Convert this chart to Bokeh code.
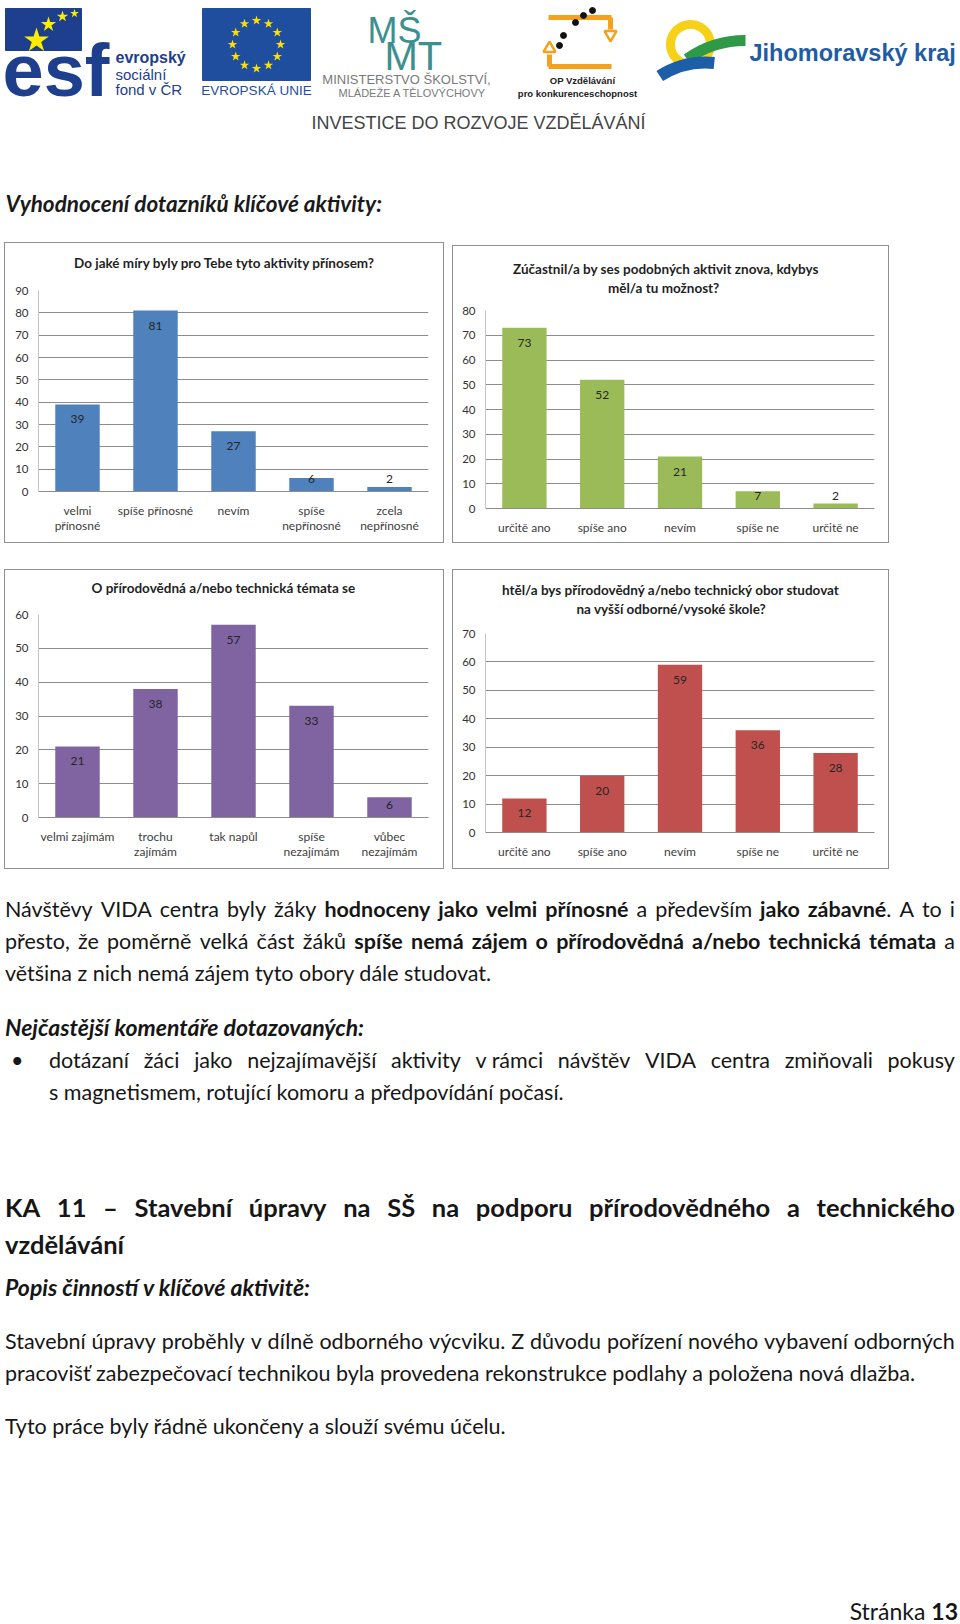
import numpy as np
from bokeh.plotting import figure
from bokeh.models import ColumnDataSource, FactorRange, Range1d, FixedTicker, Title, Div, Spacer
from bokeh.layouts import column, row
from bokeh.embed import file_html
from bokeh.resources import INLINE
from bokeh.core.properties import value

FONT = "Lato"

# ---------------- chart data ----------------
c1_title = ["Do jaké míry byly pro Tebe tyto aktivity přínosem?"]
c1_cats = ["velmi\npřínosné", "spíše přínosné", "nevím", "spíše\nnepřínosné", "zcela\nnepřínosné"]
c1_vals = [39, 81, 27, 6, 2]
c1_ymax = 90

c2_title = ["Zúčastnil/a by ses podobných aktivit znova, kdybys", "měl/a tu možnost?"]
c2_cats = ["určitě ano", "spíše ano", "nevím", "spíše ne", "určitě ne"]
c2_vals = [73, 52, 21, 7, 2]
c2_ymax = 80

c3_title = ["O přírodovědná a/nebo technická témata se"]
c3_cats = ["velmi zajímám", "trochu\nzajímám", "tak napůl", "spíše\nnezajímám", "vůbec\nnezajímám"]
c3_vals = [21, 38, 57, 33, 6]
c3_ymax = 60

c4_title = ["htěl/a bys přírodovědný a/nebo technický obor studovat", "na vyšší odborné/vysoké škole?"]
c4_cats = ["určitě ano", "spíše ano", "nevím", "spíše ne", "určitě ne"]
c4_vals = [12, 20, 59, 36, 28]
c4_ymax = 70

tick_step = 10


def make_chart(title_lines, title_offsets, gap, cats, vals, ymax, color, w, h, fl, fr, ft, fb, margin):
    p = figure(width=w, height=h, x_range=FactorRange(factors=cats), y_range=Range1d(0, ymax),
               toolbar_location=None, output_backend="svg", margin=margin, title=None,
               min_border_left=fl, min_border_right=fr, min_border_top=ft, min_border_bottom=fb,
               frame_align=False,
               styles={"outline": "1px solid #8f8f8f", "outline-offset": "0px"})
    p.x_range.range_padding = 0
    p.outline_line_color = None
    ppu = (h - ft - fb) / ymax
    ly = [max(v - 15 / ppu, 13 / ppu) for v in vals]
    src = ColumnDataSource(dict(cat=cats, val=vals, ly=ly, txt=[str(v) for v in vals]))
    p.vbar(x="cat", top="val", width=0.57, source=src, fill_color=color, line_color=None)
    p.text(x="cat", y="ly", text="txt", source=src, text_align="center", text_baseline="middle",
           text_font=value(FONT), text_font_size="12px", text_color="#262626")
    p.yaxis.ticker = FixedTicker(ticks=list(range(0, ymax + 1, tick_step)))
    p.xgrid.grid_line_color = None
    p.ygrid.grid_line_color = "#8c8c8c"
    p.axis.major_tick_line_color = None
    p.axis.minor_tick_line_color = None
    p.axis.major_tick_out = 0
    p.axis.major_tick_in = 0
    p.axis.minor_tick_out = 0
    p.yaxis.axis_line_color = "#c4c4c4"
    p.xaxis.axis_line_color = "#8c8c8c"
    p.axis.major_label_text_font = FONT
    p.yaxis.major_label_text_font_size = "11.5px"
    p.xaxis.major_label_text_font_size = "12px"
    p.xaxis.major_label_text_line_height = 1.0
    p.yaxis.major_label_text_color = "#333333"
    p.xaxis.major_label_text_color = "#404040"
    p.yaxis.major_label_standoff = 10
    p.xaxis.major_label_standoff = 11
    # white spacer next to the frame (keeps the title away from the plot), then the title lines
    p.add_layout(Title(text=".", text_font_size="6px", text_color="white", standoff=gap), "above")
    for t, o in reversed(list(zip(title_lines, title_offsets))):
        p.add_layout(Title(text=t, align="left", offset=o, standoff=1, text_font=FONT,
                           text_font_size="13.5px", text_font_style="bold", text_color="#1f1f1f"),
                     "above")
    return p


ch1 = make_chart(c1_title, [35.5], 12.6, c1_cats, c1_vals, c1_ymax, "#4f81bd",
                 438, 299, 33, 15, 47, 51, (1, 0, 1, 5))
ch2 = make_chart(c2_title, [27.5, 122.5], 8, c2_cats, c2_vals, c2_ymax, "#9bbb59",
                 435, 296, 32, 14, 64, 34, (4, 0, 1, 10))
ch3 = make_chart(c3_title, [53], 11.6, c3_cats, c3_vals, c3_ymax, "#8064a2",
                 438, 298, 33, 15, 44, 51, (1, 0, 1, 5))
ch4 = make_chart(c4_title, [16.5, 91], 10, c4_cats, c4_vals, c4_ymax, "#c0504d",
                 435, 298, 32, 14, 63, 36, (1, 0, 1, 10))

# ---------------- header (logos + heading) ----------------
hdr = figure(width=960, height=242, x_range=Range1d(0, 960), y_range=Range1d(-242, 0),
             toolbar_location=None, output_backend="svg", min_border=0, margin=(0, 0, 0, 0),
             x_axis_location=None, y_axis_location=None)
hdr.grid.visible = False
hdr.outline_line_color = None

LS = value("Liberation Sans")
ESF_BLUE = "#1d3f8e"
# ESF logo
hdr.quad(left=[5], right=[81], top=[-8], bottom=[-50], color=ESF_BLUE)
hdr.text(x=[2], y=[-70], text=["esf"], text_font=LS, text_font_style="bold",
         text_font_size="74px", text_color=ESF_BLUE, text_baseline="middle")
hdr.scatter(x=[36, 48, 62, 74], y=[-40, -24, -16, -13], marker="star", size=[26, 16, 12, 9],
            color="#ffed00", line_color=None)
hdr.text(x=[115], y=[-57], text=["evropský"], text_font=LS, text_font_style="bold",
         text_font_size="16px", text_color=ESF_BLUE, text_baseline="middle")
hdr.text(x=[115, 115], y=[-74, -89], text=["sociální", "fond v ČR"], text_font=LS,
         text_font_size="15px", text_color=ESF_BLUE, text_baseline="middle")

# EU flag
EU_BLUE = "#1f4e9f"
hdr.quad(left=[202], right=[310], top=[-8], bottom=[-80], color=EU_BLUE)
ang = np.arange(12) * np.pi / 6
hdr.scatter(x=256 + 24 * np.cos(ang), y=-44 + 24 * np.sin(ang), marker="star", size=10,
            color="#ffe000", line_color=None)
hdr.text(x=[256], y=[-90], text=["EVROPSKÁ UNIE"], text_font=LS,
         text_font_size="13.5px", text_color=EU_BLUE, text_align="center", text_baseline="middle")

# MSMT
TEAL = "#3c9090"
hdr.text(x=[367], y=[-30], text=["MŠ"], text_font=LS, text_font_size="36px",
         text_color=TEAL, text_baseline="middle")
hdr.text(x=[384], y=[-55], text=["MT"], text_font=LS, text_font_size="40px",
         text_color=TEAL, text_baseline="middle")
hdr.text(x=[406], y=[-79], text=["MINISTERSTVO ŠKOLSTVÍ,"], text_font=LS,
         text_font_size="13px", text_color="#7a7a7a", text_align="center", text_baseline="middle")
hdr.text(x=[412], y=[-92], text=["MLÁDEŽE A TĚLOVÝCHOVY"], text_font=LS,
         text_font_size="11px", text_color="#7a7a7a", text_align="center", text_baseline="middle")

# OP logo
ORANGE = "#f4a11d"
hdr.multi_line(xs=[[548, 611], [610, 610], [548, 611], [549, 549]],
               ys=[[-17, -17], [-17, -29], [-66, -66], [-66, -54]], line_color=ORANGE, line_width=5)
hdr.scatter(x=[610], y=[-34], marker="inverted_triangle", size=12, fill_color="white",
            line_color=ORANGE, line_width=2.5)
hdr.scatter(x=[549], y=[-48], marker="triangle", size=12, fill_color="white",
            line_color=ORANGE, line_width=2.5)
hdr.scatter(x=[559, 563, 575, 583, 592], y=[-45, -35, -22, -15, -10], size=6, color="#111111")
hdr.text(x=[582], y=[-80], text=["OP Vzdělávání"], text_font=LS, text_font_style="bold",
         text_font_size="9.5px", text_color="#222222", text_align="center", text_baseline="middle")
hdr.text(x=[577], y=[-93], text=["pro konkurenceschopnost"], text_font=LS,
         text_font_style="bold", text_font_size="9.5px", text_color="#222222", text_align="center",
         text_baseline="middle")

# Jihomoravsky kraj
hdr.arc(x=[690], y=[-44], radius=20, start_angle=0, end_angle=2 * np.pi * 0.999,
        line_color="#f7d117", line_width=9)
hdr.arc(x=[745], y=[-142], radius=102, start_angle=np.deg2rad(90), end_angle=np.deg2rad(125),
        line_color="#2e9a47", line_width=11)
hdr.arc(x=[705], y=[-146], radius=84, start_angle=np.deg2rad(84), end_angle=np.deg2rad(123),
        line_color="#1d5ea8", line_width=12)
hdr.text(x=[749], y=[-52], text=["Jihomoravský kraj"], text_font=LS,
         text_font_style="bold", text_font_size="23.5px", text_color="#1f5ca6", text_baseline="middle")

hdr.text(x=[311], y=[-122], text=["INVESTICE DO ROZVOJE VZDĚLÁVÁNÍ"], text_font=LS,
         text_font_size="18px", text_color="#444444", text_baseline="middle")

hdr.text(x=[5], y=[-203], text=["Vyhodnocení dotazníků klíčové aktivity:"], text_font=value(FONT),
         text_font_style="bold italic", text_font_size="22.5px", text_color="#1a1a1a", text_baseline="middle")

# ---------------- body text ----------------
TOP = 869  # page y where the text block starts
# text (with *...* for bold), x, y-centre, font size, right edge if justified, style
body_lines = [
    ("Návštěvy VIDA centra byly žáky *hodnoceny jako velmi přínosné* a především *jako zábavné*. A to i",
     5, 909.5, 21.5, 955, ""),
    ("přesto, že poměrně velká část žáků *spíše nemá zájem o přírodovědná a/nebo technická témata* a",
     5, 941.7, 21.5, 955, ""),
    ("většina z nich nemá zájem tyto obory dále studovat.", 5, 973.8, 21.5, None, ""),
    ("Nejčastější komentáře dotazovaných:", 5, 1027.7, 23, None, "font-weight:bold;font-style:italic;"),
    ("•", 11, 1060.8, 21.5, None, ""),
    ("dotázaní žáci jako nejzajímavější aktivity v\u00a0rámci návštěv VIDA centra zmiňovali pokusy",
     49, 1060.8, 21.5, 955, ""),
    ("s\u00a0magnetismem, rotující komoru a předpovídání počasí.", 49, 1093, 21.5, None, ""),
    ("KA 11 – Stavební úpravy na SŠ na podporu přírodovědného a technického", 5, 1207, 25.5, 955,
     "font-weight:bold;"),
    ("vzdělávání", 5, 1244, 25.5, None, "font-weight:bold;"),
    ("Popis činností v klíčové aktivitě:", 5, 1288, 23, None, "font-weight:bold;font-style:italic;"),
    ("Stavební úpravy proběhly v dílně odborného výcviku. Z důvodu pořízení nového vybavení odborných",
     5, 1341.6, 21.5, 955, ""),
    ("pracovišť zabezpečovací technikou byla provedena rekonstrukce podlahy a položena nová dlažba.",
     5, 1373.7, 21.5, None, ""),
    ("Tyto práce byly řádně ukončeny a slouží svému účelu.", 5, 1426.6, 21.5, None, ""),
]


def words_html(s):
    bold = False
    out_words = []
    for w in s.split(" "):
        out, buf = "", ""
        for ch in w:
            if ch == "*":
                if buf:
                    out += f"<b>{buf}</b>" if bold else buf
                    buf = ""
                bold = not bold
            else:
                buf += ch
        if buf:
            out += f"<b>{buf}</b>" if bold else buf
        out_words.append(out)
    return out_words


parts = []
for txt, x, yc, size, right, extra in body_lines:
    top = yc - TOP - size * 0.6
    st = (f"position:absolute;left:{x}px;top:{top:.1f}px;font-family:{FONT};font-size:{size}px;"
          f"line-height:1.2;color:#161616;white-space:nowrap;{extra}")
    ws = words_html(txt)
    if right:
        st += f"width:{right - x}px;display:flex;justify-content:space-between;"
        inner = "".join(f"<span>{w}</span>" for w in ws)
    else:
        inner = " ".join(ws)
    parts.append(f'<div style="{st}">{inner}</div>')
footer_top = 1612 - TOP - 23 * 0.6
parts.append(f'<div style="position:absolute;left:0px;width:958px;text-align:right;top:{footer_top:.1f}px;'
             f'font-family:{FONT};font-size:23px;line-height:1.2;color:#161616;white-space:nowrap;">'
             f'Stránka <b>13</b></div>')

BODY_H = 1624 - TOP
body_html = f'<div style="position:relative;width:960px;height:{BODY_H}px;">' + "".join(parts) + "</div>"
body = Div(text=body_html, width=960, height=BODY_H, margin=(0, 0, 0, 0))

layout = column(
    hdr,
    row(ch1, ch2, spacing=0),
    Spacer(width=960, height=26, margin=(0, 0, 0, 0)),
    row(ch3, ch4, spacing=0),
    body,
    spacing=0,
)

open("out.html", "w").write(file_html(layout, INLINE))
